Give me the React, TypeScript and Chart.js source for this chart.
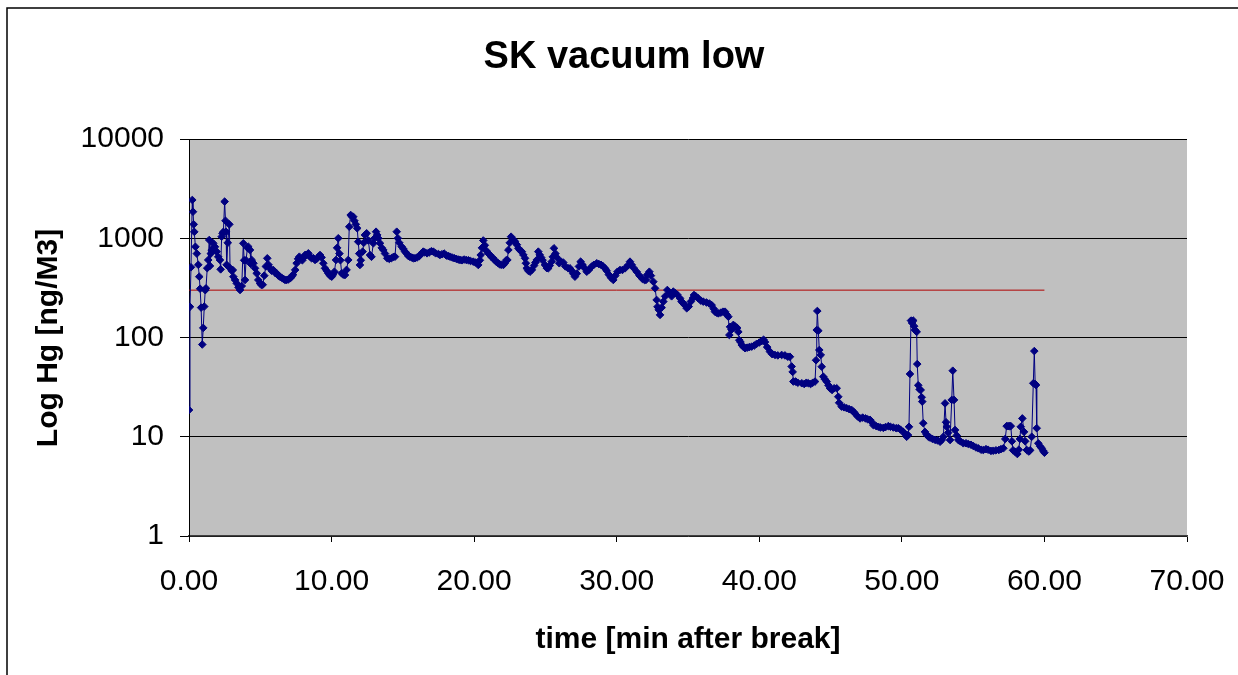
import React, { useEffect, useRef } from "react";
import { Chart, registerables } from "chart.js";

Chart.register(...registerables);

const chartTitle = "SK vacuum low";
const xAxisTitle = "time [min after break]";
const yAxisTitle = "Log Hg [ng/M3]";

const xTickValues = [0, 10, 20, 30, 40, 50, 60, 70];
const yTickValues = [1, 10, 100, 1000, 10000];

const limitTimes = [0, 60];
const limitValues = [300, 300];

const times = [
  0, 0.07, 0.14, 0.23, 0.28, 0.33, 0.37, 0.45, 0.55, 0.65, 0.72, 0.78, 0.85, 0.93, 1.0, 1.07, 1.14, 1.19, 1.28, 1.35,
  1.42, 1.47, 1.53, 1.59, 1.7, 1.82, 1.94, 2.05, 2.17, 2.22, 2.29, 2.35, 2.41, 2.5, 2.56, 2.6, 2.64, 2.72, 2.83, 2.88,
  3.0, 3.07, 3.11, 3.23, 3.35, 3.47, 3.58, 3.7, 3.81, 3.87, 3.93, 4.0, 4.1, 4.16, 4.28, 4.34, 4.4, 4.52, 4.63, 4.75,
  4.86, 4.98, 5.08, 5.17, 5.28, 5.39, 5.49, 5.58, 5.68, 5.8, 5.91, 6.03, 6.15, 6.27, 6.38, 6.5, 6.62, 6.73, 6.85, 6.97,
  7.1, 7.2, 7.3, 7.45, 7.55, 7.65, 7.74, 7.85, 7.95, 8.05, 8.15, 8.26, 8.37, 8.5, 8.6, 8.72, 8.84, 8.96, 9.08, 9.19,
  9.3, 9.42, 9.54, 9.66, 9.77, 9.89, 10.01, 10.1, 10.2, 10.31, 10.39, 10.47, 10.55, 10.62, 10.71, 10.82, 10.94, 11.05, 11.17, 11.24,
  11.34, 11.43, 11.52, 11.6, 11.7, 11.8, 11.87, 11.94, 11.99, 12.05, 12.18, 12.26, 12.34, 12.46, 12.58, 12.7, 12.8, 12.93, 13.02, 13.12,
  13.2, 13.28, 13.4, 13.52, 13.63, 13.75, 13.91, 14.05, 14.2, 14.35, 14.45, 14.57, 14.65, 14.75, 14.92, 15.04, 15.15, 15.27, 15.38, 15.5,
  15.62, 15.73, 15.85, 16.0, 16.15, 16.3, 16.43, 16.55, 16.7, 16.85, 17.0, 17.14, 17.3, 17.49, 17.6, 17.75, 17.9, 18.05, 18.2, 18.31,
  18.45, 18.6, 18.75, 18.9, 19.01, 19.15, 19.3, 19.45, 19.6, 19.75, 19.94, 20.1, 20.29, 20.4, 20.46, 20.55, 20.64, 20.75, 20.85, 20.99,
  21.1, 21.2, 21.34, 21.45, 21.55, 21.69, 21.8, 21.9, 22.05, 22.15, 22.25, 22.33, 22.4, 22.5, 22.59, 22.7, 22.8, 22.87, 23.0, 23.1,
  23.2, 23.35, 23.45, 23.57, 23.63, 23.69, 23.8, 23.92, 24.05, 24.2, 24.3, 24.39, 24.5, 24.6, 24.7, 24.8, 24.97, 25.1, 25.2, 25.3,
  25.44, 25.52, 25.6, 25.7, 25.8, 25.97, 26.1, 26.25, 26.4, 26.6, 26.72, 26.85, 26.95, 27.07, 27.2, 27.35, 27.47, 27.6, 27.75, 27.9,
  28.05, 28.25, 28.4, 28.6, 28.75, 28.9, 29.05, 29.18, 29.3, 29.45, 29.6, 29.76, 29.9, 30.05, 30.23, 30.4, 30.6, 30.81, 30.93, 31.05,
  31.2, 31.4, 31.6, 31.8, 31.95, 32.05, 32.15, 32.29, 32.4, 32.57, 32.69, 32.8, 32.86, 32.95, 33.04, 33.15, 33.27, 33.4, 33.55, 33.7,
  33.85, 33.97, 34.1, 34.25, 34.44, 34.55, 34.67, 34.8, 34.91, 35.05, 35.2, 35.35, 35.42, 35.55, 35.72, 35.9, 36.07, 36.3, 36.5, 36.66,
  36.8, 36.89, 37.0, 37.13, 37.3, 37.45, 37.6, 37.72, 37.83, 37.9, 37.95, 38.05, 38.18, 38.3, 38.45, 38.53, 38.6, 38.68, 38.77, 38.9,
  39.0, 39.15, 39.3, 39.47, 39.65, 39.8, 40.0, 40.17, 40.3, 40.4, 40.55, 40.75, 40.9, 41.1, 41.3, 41.57, 41.8, 42.0, 42.15, 42.27,
  42.34, 42.39, 42.55, 42.7, 42.98, 43.15, 43.3, 43.44, 43.6, 43.75, 43.91, 43.98, 44.03, 44.07, 44.14, 44.21, 44.31, 44.38, 44.49, 44.6,
  44.73, 44.85, 44.96, 45.1, 45.25, 45.43, 45.54, 45.6, 45.78, 45.95, 46.13, 46.3, 46.48, 46.6, 46.71, 46.9, 47.07, 47.25, 47.45, 47.6,
  47.77, 47.9, 48.0, 48.2, 48.35, 48.5, 48.7, 48.85, 49.05, 49.2, 49.4, 49.6, 49.75, 49.9, 50.1, 50.25, 50.34, 50.43, 50.5, 50.57,
  50.64, 50.72, 50.8, 50.86, 50.92, 51.04, 51.08, 51.15, 51.25, 51.32, 51.39, 51.43, 51.5, 51.62, 51.74, 51.86, 51.98, 52.15, 52.33, 52.5,
  52.68, 52.8, 52.91, 53.03, 53.1, 53.15, 53.25, 53.38, 53.5, 53.57, 53.66, 53.73, 53.85, 53.96, 54.1, 54.31, 54.5, 54.66, 54.85, 55.01,
  55.2, 55.36, 55.55, 55.71, 55.9, 56.05, 56.25, 56.41, 56.6, 56.8, 56.95, 57.12, 57.25, 57.35, 57.45, 57.55, 57.64, 57.72, 57.8, 57.94,
  58.1, 58.2, 58.28, 58.34, 58.45, 58.57, 58.65, 58.76, 58.9, 59.0, 59.11, 59.22, 59.29, 59.35, 59.41, 59.46, 59.57, 59.7, 59.81, 59.92,
  60.0,
];

const hgValues = [
  18.6, 204, 510, 2430, 1850, 1380, 1160, 820, 700, 540, 410, 310, 200, 85, 125, 205, 300, 313, 500, 604,
  960, 526, 700, 760, 890, 820, 733, 650, 604, 486, 1037, 1120, 1160, 2340, 1500, 1160, 540, 900, 1380, 500,
  470, 479, 410, 380, 351, 320, 301, 330, 889, 600, 380, 600, 800, 822, 762, 550, 604, 560, 498, 443,
  380, 351, 338, 340, 420, 520, 628, 540, 498, 470, 479, 450, 443, 420, 410, 400, 390, 380, 380, 385,
  395, 410, 430, 480, 560, 620, 652, 620, 600, 640, 680, 678, 705, 650, 628, 630, 604, 620, 650, 678,
  640, 560, 498, 470, 443, 420, 410, 430, 460, 604, 800, 1000, 700, 600, 443, 430, 426, 480, 604, 1307,
  1715, 1650, 1649, 1500, 1380, 1260, 923, 700, 538, 600, 733, 900, 1079, 1122, 950, 678, 650, 889, 1000, 1164,
  1080, 1000, 889, 800, 762, 700, 628, 620, 630, 650, 652, 1164, 1000, 900, 822, 780, 733, 700, 663, 650,
  640, 628, 630, 640, 660, 700, 733, 720, 705, 720, 740, 733, 705, 694, 678, 690, 700, 670, 660, 652,
  640, 630, 620, 610, 604, 600, 610, 604, 600, 590, 581, 570, 538, 600, 678, 800, 950, 850, 750, 705,
  680, 650, 628, 600, 580, 560, 545, 540, 538, 560, 600, 604, 762, 900, 1037, 980, 950, 923, 860, 792,
  760, 733, 680, 628, 560, 498, 470, 460, 480, 530, 570, 604, 733, 680, 640, 600, 538, 500, 498, 530,
  581, 650, 792, 700, 640, 560, 580, 570, 520, 498, 498, 470, 440, 410, 440, 520, 581, 540, 500, 460,
  480, 520, 540, 560, 550, 540, 520, 498, 470, 430, 400, 380, 420, 460, 479, 479, 500, 538, 581, 540,
  500, 460, 420, 390, 380, 380, 430, 460, 420, 365, 313, 239, 204, 190, 169, 200, 230, 260, 301, 280,
  260, 290, 280, 270, 248, 230, 221, 210, 197, 205, 230, 250, 268, 260, 248, 235, 230, 225, 220, 212,
  195, 182, 178, 175, 178, 182, 182, 170, 162, 106, 128, 120, 134, 130, 125, 114, 94, 90, 84, 80,
  78, 79, 80, 81, 83, 86, 89, 92, 95, 90, 80, 72, 68, 66.7, 66, 66.7, 66, 64, 64, 51,
  45, 36, 36, 35, 34.6, 34, 35, 34.6, 34, 35, 36, 59, 119, 185, 117, 74.8, 66.7, 50.8, 40.3, 38,
  35.9, 33, 30.8, 29.6, 30.8, 30.8, 25.3, 22, 20.1, 19.8, 19.4, 19, 18.6, 17.9, 17.2, 16, 15.3, 15.6, 15.3, 15,
  14.8, 14, 13.1, 12.8, 12.6, 12.4, 12.3, 12.5, 12.8, 12.6, 12.4, 12.2, 12.2, 11.8, 11.2, 10.6, 10.0, 10.4, 12.6, 42.9,
  148, 140, 148, 130, 119, 114, 54, 33, 30, 29.6, 25, 22.6, 13.7, 11.2, 10.5, 10.0, 9.8, 9.5, 9.3, 9.2,
  8.9, 9.3, 10.0, 21.7, 14, 12.6, 11, 9.27, 23.5, 46.3, 23.5, 11.7, 10.3, 9.27, 9.0, 8.59, 8.6, 8.45, 8.3, 8.07,
  7.8, 7.65, 7.4, 7.35, 7.5, 7.4, 7.2, 7.23, 7.3, 7.35, 7.5, 7.65, 9.5, 12.8, 12.8, 12.8, 12.8, 9, 7.3, 7.06,
  6.7, 7.4, 9.5, 12.6, 15.3, 11.2, 9, 7.35, 7.1, 7.3, 10.0, 34.6, 73, 34, 33.2, 12.2, 8.59, 8.0, 7.65, 7.2,
  6.9,
];

const FONT = "'Liberation Sans', Arial, Helvetica, sans-serif";

export default function App() {
  const ref = useRef<HTMLCanvasElement>(null);

  useEffect(() => {
    document.body.style.margin = "0";
    const canvas = ref.current;
    if (!canvas) return;

    const decor = {
      id: "decor",
      beforeDraw(chart: any) {
        const { ctx, chartArea } = chart;
        ctx.save();
        ctx.fillStyle = "#ffffff";
        ctx.fillRect(0, 0, chart.width, chart.height);
        ctx.fillStyle = "#C0C0C0";
        ctx.fillRect(chartArea.left, chartArea.top, chartArea.right - chartArea.left, chartArea.bottom - chartArea.top);
        ctx.strokeStyle = "#000000";
        ctx.lineWidth = 1.5;
        ctx.beginPath();
        ctx.moveTo(7, chart.height);
        ctx.lineTo(7, 8);
        ctx.lineTo(chart.width, 8);
        ctx.stroke();
        ctx.restore();
      },
      afterDraw(chart: any) {
        const { ctx, chartArea } = chart;
        ctx.save();
        ctx.fillStyle = "#000000";
        ctx.textAlign = "center";
        ctx.textBaseline = "alphabetic";
        ctx.font = `bold 38px ${FONT}`;
        ctx.fillText(chartTitle, 624, 68);
        ctx.font = `bold 30px ${FONT}`;
        ctx.fillText(xAxisTitle, (chartArea.left + chartArea.right) / 2, 648);
        ctx.translate(57, 338);
        ctx.rotate(-Math.PI / 2);
        ctx.fillText(yAxisTitle, 0, 0);
        ctx.restore();
      },
    };

    const chart = new Chart(canvas, {
      type: "line",
      data: {
        datasets: [
          {
            label: "Hg",
            data: times.map((t, i) => ({ x: t, y: hgValues[i] })),
            borderColor: "#000080",
            backgroundColor: "#000080",
            borderWidth: 1,
            pointStyle: "rectRot",
            pointRadius: 3.8,
            pointBorderWidth: 1,
            pointBorderColor: "#000080",
            pointBackgroundColor: "#000080",
            tension: 0,
          },
          {
            label: "limit",
            data: limitTimes.map((t, i) => ({ x: t, y: limitValues[i] })),
            borderColor: "#B00000",
            borderWidth: 1,
            pointRadius: 0,
            tension: 0,
          },
        ],
      },
      options: {
        responsive: false,
        animation: false,
        devicePixelRatio: 1,
        layout: { padding: { top: 139, right: 51, left: 0, bottom: 0 } },
        plugins: {
          legend: { display: false },
          tooltip: { enabled: false },
          title: { display: false },
        },
        scales: {
          x: {
            type: "linear",
            min: 0,
            max: 70,
            afterBuildTicks: (s: any) => {
              s.ticks = xTickValues.map((v) => ({ value: v }));
            },
            afterFit: (s: any) => {
              s.height = 139;
              s.paddingLeft = 0;
              s.paddingRight = 0;
            },
            ticks: {
              callback: (v: any) => Number(v).toFixed(2),
              font: { family: FONT, size: 30 },
              color: "#000000",
              padding: 22,
              maxRotation: 0,
              autoSkip: false,
            },
            grid: { drawOnChartArea: false, drawTicks: true, tickLength: 6, color: "#000000" },
            border: { display: true, color: "#404040", width: 1.5 },
          },
          y: {
            type: "logarithmic",
            min: 1,
            max: 10000,
            afterBuildTicks: (s: any) => {
              s.ticks = yTickValues.map((v) => ({ value: v }));
            },
            afterFit: (s: any) => {
              s.width = 189;
              s.paddingTop = 0;
              s.paddingBottom = 0;
            },
            ticks: {
              callback: (v: any) => String(v),
              font: { family: FONT, size: 30 },
              color: "#000000",
              padding: 16,
              autoSkip: false,
            },
            grid: { drawOnChartArea: true, drawTicks: true, tickLength: 9, color: "#000000", lineWidth: 1 },
            border: { display: true, color: "#000000", width: 1 },
          },
        },
      },
      plugins: [decor],
    } as any);

    return () => chart.destroy();
  }, []);

  return (
    <div style={{ width: 1238, height: 675 }}>
      <canvas ref={ref} width={1238} height={675} style={{ display: "block", width: 1238, height: 675 }} />
    </div>
  );
}
